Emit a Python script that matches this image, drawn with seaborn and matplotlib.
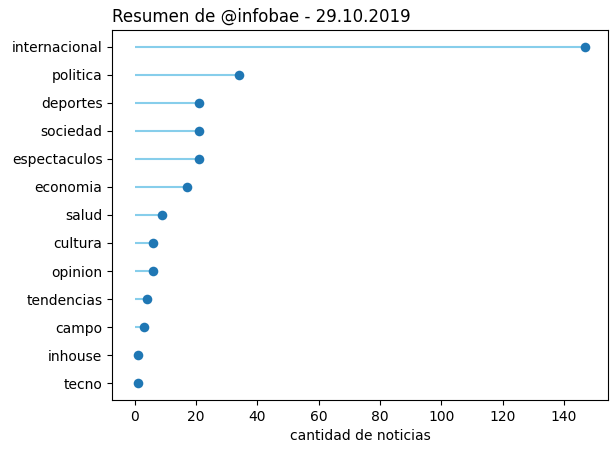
import numpy as np
import pandas as pd
import matplotlib
matplotlib.use("Agg")
import matplotlib.pyplot as plt
import seaborn as sns

# secciones y cantidad de noticias
SECCIONES = ["internacional", "politica", "deportes", "sociedad", "espectaculos",
             "economia", "salud", "cultura", "opinion", "tendencias",
             "campo", "inhouse", "tecno"]
CANTIDAD = [147, 34, 21, 21, 21, 17, 9, 6, 6, 4, 3, 1, 1]

TITULO = "Resumen de @infobae - 29.10.2019"

df = pd.DataFrame({"seccion": SECCIONES, "cantidad": CANTIDAD})
df = df.iloc[::-1].reset_index(drop=True)
df["pos"] = np.arange(len(df))

fig, ax = plt.subplots(figsize=(6.16, 4.53), dpi=100)
fig.subplots_adjust(left=0.182, right=0.987, top=0.934, bottom=0.117)

ax.hlines(y=df["pos"], xmin=0, xmax=df["cantidad"], color="skyblue")
sns.scatterplot(data=df, x="cantidad", y="pos", ax=ax, color="C0", s=48,
                edgecolor=None, linewidth=0, zorder=3)

ax.set_yticks(df["pos"])
ax.set_yticklabels(df["seccion"])
ax.set_ylabel("")
ax.set_xlabel("cantidad de noticias")
ax.set_title(TITULO, loc="left")

fig.savefig("out.png", dpi=100)
